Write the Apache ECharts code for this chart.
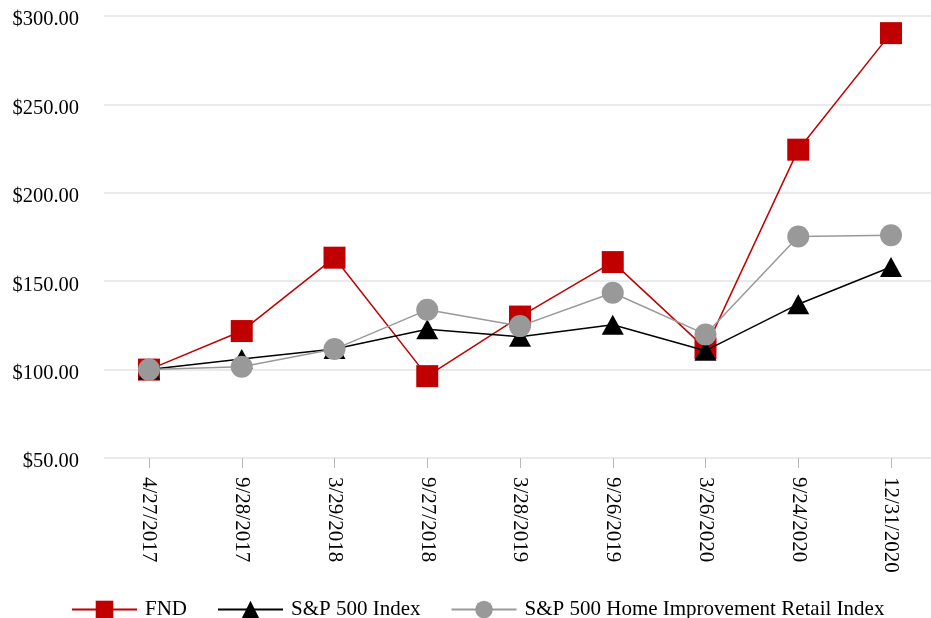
<!DOCTYPE html>
<html>
<head>
<meta charset="utf-8">
<script src="https://cdn.jsdelivr.net/npm/echarts@6/dist/echarts.min.js"></script>
<style>
  html, body { margin: 0; padding: 0; background: #fff; }
  #chart { width: 931px; height: 618px; }
</style>
</head>
<body>
<div id="chart"></div>
<script>
const dates = ['4/27/2017', '9/28/2017', '3/29/2018', '9/27/2018', '3/28/2019', '9/26/2019', '3/26/2020', '9/24/2020', '12/31/2020'];
const fnd = [100, 121.8, 163.3, 96.3, 130.0, 160.8, 112.0, 224.4, 290.3];
const sp500 = [100, 106.0, 111.6, 122.8, 118.6, 125.4, 110.7, 137.0, 158.0];
const homeImprovement = [100, 101.6, 111.6, 133.8, 124.6, 143.5, 119.9, 175.3, 176.0];
const yTicks = { min: 50, max: 300, interval: 50 };

const font = 'Liberation Serif, Times New Roman, serif';
const money = v => '{a|$' + v.toFixed(2) + '}';

const chart = echarts.init(document.getElementById('chart'));
chart.setOption({
  animation: false,
  textStyle: { fontFamily: font },
  grid: [
    // background grid: gridlines + y labels across the full width
    { left: 104, right: 0, top: 16, height: 442 },
    // plotting grid: first/last dates sit on the edges
    { left: 149, right: 40, top: 16, height: 442 }
  ],
  legend: {
    top: 594,
    left: 66,
    itemWidth: 65,
    itemHeight: 22,
    itemGap: 30,
    textStyle: { fontFamily: font, fontSize: 21, color: '#000', padding: [0, 0, 0, 3] },
    data: ['FND', 'S&P 500 Index', 'S&P 500 Home Improvement Retail Index']
  },
  xAxis: [
    { type: 'category', gridIndex: 0, data: dates, show: false },
    {
      type: 'category',
      gridIndex: 1,
      data: dates,
      boundaryGap: false,
      axisLine: { show: false },
      axisTick: { show: true, length: 10, lineStyle: { color: '#bbbbbb' } },
      axisLabel: { rotate: -90, fontFamily: font, fontSize: 21, color: '#000', margin: 19 }
    }
  ],
  yAxis: [
    {
      type: 'value', gridIndex: 0,
      min: yTicks.min, max: yTicks.max, interval: yTicks.interval,
      axisLine: { show: false },
      axisTick: { show: false },
      splitLine: { lineStyle: { color: '#e3e3e3', width: 1.5 } },
      axisLabel: {
        margin: 25,
        formatter: money,
        rich: { a: { fontFamily: font, fontSize: 20.5, color: '#000', padding: [8, 0, 0, 0] } }
      }
    },
    {
      type: 'value', gridIndex: 1,
      min: yTicks.min, max: yTicks.max, interval: yTicks.interval,
      show: false,
      splitLine: { show: false }
    }
  ],
  series: [
    {
      name: 'S&P 500 Home Improvement Retail Index',
      type: 'line', xAxisIndex: 1, yAxisIndex: 1, data: homeImprovement, z: 4,
      symbol: 'circle', symbolSize: 22,
      itemStyle: { color: '#999999' },
      lineStyle: { color: '#999999', width: 1.5 }
    },
    {
      name: 'S&P 500 Index',
      type: 'line', xAxisIndex: 1, yAxisIndex: 1, data: sp500, z: 3,
      symbol: 'triangle', symbolSize: [22, 20],
      itemStyle: { color: '#000000' },
      lineStyle: { color: '#000000', width: 1.5 }
    },
    {
      name: 'FND',
      type: 'line', xAxisIndex: 1, yAxisIndex: 1, data: fnd, z: 2,
      symbol: 'rect', symbolSize: 22,
      itemStyle: { color: '#c00000' },
      lineStyle: { color: '#c00000', width: 1.5 }
    }
  ]
});
</script>
</body>
</html>
